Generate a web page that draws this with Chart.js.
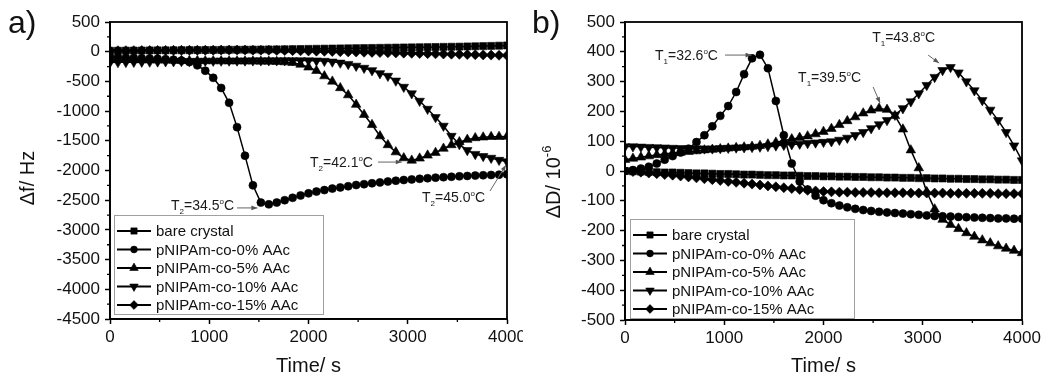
<!DOCTYPE html>
<html>
<head>
<meta charset="utf-8">
<title>QCM-D: frequency and dissipation shift</title>
<script src="https://cdn.jsdelivr.net/npm/chart.js@4.4.1/dist/chart.umd.min.js"></script>
<style>
  body { margin: 0; background: #fff; }
  #wrap { position: relative; width: 1053px; height: 381px; overflow: hidden; }
  #chartF { position: absolute; left: 0; top: 0; }
  #chartD { position: absolute; left: 523px; top: 0; }
</style>
</head>
<body>
<div id="wrap">
  <canvas id="chartF" width="523" height="381"></canvas>
  <canvas id="chartD" width="530" height="381"></canvas>
</div>
<script>
const FONT = "'Liberation Sans', Arial, sans-serif";

// time axis (s), one sample every 80 s
const times = [0, 80, 160, 240, 320, 400, 480, 560, 640, 720,
  800, 880, 960, 1040, 1120, 1200, 1280, 1360, 1440, 1520,
  1600, 1680, 1760, 1840, 1920, 2000, 2080, 2160, 2240, 2320,
  2400, 2480, 2560, 2640, 2720, 2800, 2880, 2960, 3040, 3120,
  3200, 3280, 3360, 3440, 3520, 3600, 3680, 3760, 3840, 3920, 4000];

const seriesNames = ['bare crystal', 'pNIPAm-co-0% AAc', 'pNIPAm-co-5% AAc',
  'pNIPAm-co-10% AAc', 'pNIPAm-co-15% AAc'];

// frequency shift, Hz
const fBare = [15, 16, 18, 19, 20, 21, 22, 23, 24, 25,
  26, 27, 28, 29, 30, 32, 33, 34, 35, 36,
  38, 39, 41, 43, 45, 47, 49, 51, 53, 55,
  57, 59, 61, 63, 65, 67, 69, 71, 73, 75,
  77, 79, 81, 83, 85, 88, 91, 94, 97, 101, 105];
const f0 = [-90, -95, -100, -105, -110, -115, -120, -125, -135, -150,
  -175, -230, -320, -440, -610, -860, -1270, -1750, -2250, -2540,
  -2570, -2540, -2500, -2460, -2420, -2385, -2355, -2330, -2305, -2285,
  -2265, -2245, -2230, -2215, -2200, -2185, -2172, -2160, -2150, -2140,
  -2130, -2120, -2112, -2105, -2098, -2092, -2086, -2080, -2075, -2070, -2065];
const f5 = [-130, -132, -135, -137, -140, -142, -144, -146, -148, -150,
  -152, -154, -156, -157, -158, -159, -160, -161, -162, -163,
  -164, -168, -175, -185, -215, -262, -320, -410, -500, -610,
  -730, -890, -1060, -1230, -1420, -1570, -1690, -1790, -1830, -1795,
  -1745, -1700, -1630, -1570, -1520, -1480, -1452, -1440, -1432, -1430, -1428];
const f10 = [-180, -178, -176, -174, -172, -170, -168, -166, -164, -162,
  -160, -158, -156, -155, -154, -153, -152, -151, -150, -150,
  -149, -149, -148, -148, -148, -150, -152, -158, -170, -188,
  -210, -240, -275, -315, -365, -410, -490, -595, -705, -830,
  -965, -1105, -1250, -1420, -1560, -1660, -1725, -1760, -1790, -1825, -1850];
const f15 = [15, 16, 17, 18, 19, 20, 21, 22, 23, 24,
  25, 25, 26, 26, 27, 27, 27, 27, 26, 25,
  24, 22, 20, 18, 15, 12, 9, 6, 3, 0,
  -3, -6, -9, -12, -15, -18, -21, -24, -27, -30,
  -33, -36, -39, -42, -45, -48, -51, -54, -57, -60, -63];

// dissipation shift, 1e-6
const dBare = [0, -1, -2, -3, -4, -5, -5, -6, -7, -8,
  -8, -9, -10, -10, -11, -12, -12, -13, -14, -14,
  -15, -15, -16, -17, -17, -18, -18, -19, -19, -20,
  -20, -21, -21, -22, -22, -23, -23, -24, -24, -25,
  -25, -26, -26, -27, -27, -28, -28, -29, -29, -30, -30];
const d0 = [0, 3, 8, 14, 25, 38, 50, 62, 75, 97,
  120, 150, 185, 218, 265, 325, 378, 390, 345, 235,
  120, 25, -35, -62, -83, -98, -108, -116, -122, -127,
  -131, -134, -137, -139, -141, -143, -145, -147, -149, -151,
  -152, -153, -154, -155, -156, -157, -158, -159, -159, -160, -160];
const d5 = [38, 42, 46, 50, 54, 57, 60, 62, 65, 67,
  70, 72, 74, 76, 78, 80, 82, 85, 90, 96,
  102, 107, 112, 117, 124, 132, 142, 155, 168, 181,
  194, 204, 210, 206, 185, 140, 70, 10, -70, -128,
  -163, -180, -194, -208, -220, -232, -242, -252, -260, -267, -275];
const d10 = [82, 82, 81, 80, 79, 78, 77, 76, 75, 75,
  75, 75, 76, 77, 78, 79, 80, 81, 83, 85,
  87, 89, 91, 93, 95, 97, 99, 104, 111, 120,
  130, 143, 156, 170, 188, 210, 233, 260, 288, 315,
  338, 348, 330, 300, 270, 237, 205, 170, 130, 85, 35];
const d15 = [0, -2, -4, -7, -9, -12, -14, -17, -20, -23,
  -26, -29, -32, -35, -38, -41, -44, -47, -50, -53,
  -56, -59, -62, -65, -67, -69, -70, -71, -71, -72,
  -72, -72, -73, -73, -73, -73, -74, -74, -74, -74,
  -74, -75, -75, -75, -75, -75, -75, -76, -76, -76, -76];

// symbol per sample
const markers = [
  { pointStyle: 'rect', rotation: 0, radius: 5 },
  { pointStyle: 'circle', rotation: 0, radius: 4 },
  { pointStyle: 'triangle', rotation: 0, radius: 5.5 },
  { pointStyle: 'triangle', rotation: 180, radius: 5.5 },
  { pointStyle: 'rectRot', rotation: 0, radius: 5 }
];

function makeDatasets(arrays) {
  return arrays.map((arr, i) => ({
    label: seriesNames[i],
    data: times.map((t, k) => ({ x: t, y: arr[k] })),
    borderColor: '#000',
    backgroundColor: '#000',
    borderWidth: 1.5,
    pointStyle: markers[i].pointStyle,
    rotation: markers[i].rotation,
    pointRadius: markers[i].radius,
    pointBorderWidth: 0.6,
    pointBackgroundColor: '#000',
    pointBorderColor: '#000',
    tension: 0
  }));
}

function axisX(height) {
  return {
    type: 'linear', min: 0, max: 4000,
    ticks: {
      stepSize: 500, autoSkip: false, maxRotation: 0, padding: 3, color: '#111',
      font: { family: FONT, size: 17 },
      callback: v => (v % 1000 === 0 ? String(v) : '')
    },
    grid: {
      drawOnChartArea: false, drawTicks: true, tickLength: 5, tickWidth: 1.5,
      tickColor: c => (c.tick && c.tick.value % 1000 === 0 ? '#000' : 'rgba(0,0,0,0)')
    },
    border: { display: true, color: '#000', width: 1.8 },
    title: {
      display: true, text: 'Time/ s', color: '#111',
      font: { family: FONT, size: 20 }, padding: { top: 0, bottom: 3 }
    },
    afterFit: s => { s.height = height; s.paddingLeft = 0; s.paddingRight = 0; }
  };
}

function axisY(min, max, minorStep, majorStep, width) {
  return {
    type: 'linear', min: min, max: max,
    ticks: {
      stepSize: minorStep, autoSkip: false, padding: 5, color: '#111',
      font: { family: FONT, size: 17 },
      callback: v => (v % majorStep === 0 ? String(v) : '')
    },
    grid: {
      drawOnChartArea: false, drawTicks: true, tickLength: 5, tickWidth: 1.5,
      tickColor: c => (c.tick && c.tick.value % majorStep === 0 ? '#000' : 'rgba(0,0,0,0)')
    },
    border: { display: true, color: '#000', width: 1.8 },
    afterFit: s => { s.width = width; s.paddingTop = 0; s.paddingBottom = 0; }
  };
}

// text with sub/superscripts, drawn left to right from x
function richWidth(ctx, parts, big, small) {
  let w = 0;
  parts.forEach(p => {
    ctx.font = (p.sub || p.sup ? small : big) + 'px ' + FONT;
    w += ctx.measureText(p.s).width;
  });
  return w;
}
function drawRich(ctx, parts, x, y, big, small, supShift, subShift) {
  parts.forEach(p => {
    ctx.font = (p.sub || p.sup ? small : big) + 'px ' + FONT;
    const dy = p.sup ? -supShift : (p.sub ? subShift : 0);
    ctx.fillText(p.s, x, y + dy);
    x += ctx.measureText(p.s).width;
  });
}

function tempLabel(idx, value) {
  return [{ s: 'T' }, { s: idx, sub: true }, { s: '=' + value }, { s: 'o', sup: true }, { s: 'C' }];
}

// frame, minor ticks, panel letter, y title, arrows and legend
const panelDecor = {
  id: 'panelDecor',
  afterDraw(chart, args, opts) {
    const ctx = chart.ctx;
    const a = chart.chartArea;
    const sx = chart.scales.x, sy = chart.scales.y;
    ctx.save();

    ctx.strokeStyle = '#000';
    ctx.lineWidth = 1.8;
    ctx.strokeRect(a.left, a.top, a.right - a.left, a.bottom - a.top);

    ctx.lineWidth = 1.3;
    ctx.beginPath();
    sx.ticks.forEach(t => {
      if (t.label !== '') return;
      const px = sx.getPixelForValue(t.value);
      ctx.moveTo(px, a.bottom); ctx.lineTo(px, a.bottom + 3);
    });
    sy.ticks.forEach(t => {
      if (t.label !== '') return;
      const py = sy.getPixelForValue(t.value);
      ctx.moveTo(a.left, py); ctx.lineTo(a.left - 3, py);
    });
    ctx.stroke();

    ctx.fillStyle = '#111';
    ctx.textBaseline = 'alphabetic';
    ctx.textAlign = 'left';
    ctx.font = '32px ' + FONT;
    ctx.fillText(opts.letter, opts.letterX, 33);

    // y axis title
    ctx.save();
    ctx.translate(opts.yTitleX, opts.yTitleY);
    ctx.rotate(-Math.PI / 2);
    const tw = richWidth(ctx, opts.yTitle, 20, 13);
    drawRich(ctx, opts.yTitle, -tw / 2, 7, 20, 13, 9, 0);
    ctx.restore();

    // temperature notes with arrows
    opts.notes.forEach(n => {
      ctx.fillStyle = '#1a1a1a';
      const tx = sx.getPixelForValue(n.t), ty = sy.getPixelForValue(n.v);
      drawRich(ctx, tempLabel(n.idx, n.value), tx, ty + 5, 14, 8, 6, 4);
      const x1 = sx.getPixelForValue(n.from[0]), y1 = sy.getPixelForValue(n.from[1]);
      const x2 = sx.getPixelForValue(n.to[0]), y2 = sy.getPixelForValue(n.to[1]);
      ctx.strokeStyle = '#666';
      ctx.fillStyle = '#555';
      ctx.lineWidth = 1;
      ctx.beginPath(); ctx.moveTo(x1, y1); ctx.lineTo(x2, y2); ctx.stroke();
      const ang = Math.atan2(y2 - y1, x2 - x1);
      ctx.beginPath();
      ctx.moveTo(x2, y2);
      ctx.lineTo(x2 - 6 * Math.cos(ang) + 2.3 * Math.sin(ang), y2 - 6 * Math.sin(ang) - 2.3 * Math.cos(ang));
      ctx.lineTo(x2 - 6 * Math.cos(ang) - 2.3 * Math.sin(ang), y2 - 6 * Math.sin(ang) + 2.3 * Math.cos(ang));
      ctx.closePath(); ctx.fill();
    });

    // legend box
    const lg = opts.legend;
    const bx = a.left + lg.dx, by = lg.top;
    const rowH = 18.5;
    const bh = 16 + rowH * (seriesNames.length - 1) + 9;
    ctx.fillStyle = '#fff';
    ctx.fillRect(bx, by, lg.width, bh);
    ctx.strokeStyle = '#a0a0a0';
    ctx.lineWidth = 1;
    ctx.strokeRect(bx + 0.5, by + 0.5, lg.width, bh);
    seriesNames.forEach((name, i) => {
      const y = by + 16 + i * rowH;
      ctx.strokeStyle = '#000';
      ctx.lineWidth = 2;
      ctx.beginPath(); ctx.moveTo(bx + 3, y); ctx.lineTo(bx + 37, y); ctx.stroke();
      ctx.fillStyle = '#000';
      ctx.lineWidth = 0.6;
      Chart.helpers.drawPoint(ctx, {
        pointStyle: markers[i].pointStyle, rotation: markers[i].rotation,
        radius: markers[i].radius - 0.6, borderWidth: 0.6
      }, bx + 20, y);
      ctx.fillStyle = '#111';
      ctx.font = '15px ' + FONT;
      ctx.textBaseline = 'middle';
      ctx.fillText(name, bx + 42, y + 1);
    });
    ctx.restore();
  }
};

function makeChart(id, arrays, yAxis, xHeight, padRight, decor) {
  return new Chart(document.getElementById(id), {
    type: 'line',
    data: { datasets: makeDatasets(arrays) },
    options: {
      responsive: false,
      animation: false,
      layout: { padding: { left: 0, top: 22, right: padRight, bottom: 0 } },
      scales: { x: axisX(xHeight), y: yAxis },
      plugins: { legend: { display: false }, tooltip: { enabled: false }, panelDecor: decor }
    },
    plugins: [panelDecor]
  });
}

const chartF = makeChart('chartF', [fBare, f0, f5, f10, f15],
  axisY(-4500, 500, 250, 500, 110), 62, 16, {
    letter: 'a)', letterX: 8,
    yTitle: [{ s: '\u0394f/ Hz' }], yTitleX: 27, yTitleY: 178,
    legend: { dx: 4, top: 215, width: 209 },
    notes: [
      { idx: '2', value: '34.5', t: 615, v: -2584, from: [1280, -2630], to: [1485, -2630] },
      { idx: '2', value: '42.1', t: 2015, v: -1858, from: [2700, -1858], to: [2940, -1858] },
      { idx: '2', value: '45.0', t: 3144, v: -2448, from: [3829, -2345], to: [3990, -1907] }
    ]
  });

const chartD = makeChart('chartD', [dBare, d0, d5, d10, d15],
  axisY(-500, 500, 50, 100, 102), 61, 31, {
    letter: 'b)', letterX: 9,
    yTitle: [{ s: '\u0394D/ 10' }, { s: '-6', sup: true }], yTitleX: 30, yTitleY: 182,
    legend: { dx: 5, top: 219, width: 224 },
    notes: [
      { idx: '1', value: '32.6', t: 302, v: 389, from: [1008, 389], to: [1275, 389] },
      { idx: '1', value: '39.5', t: 1744, v: 315, from: [2500, 282], to: [2570, 228] },
      { idx: '1', value: '43.8', t: 2490, v: 450, from: [3054, 389], to: [3165, 362] }
    ]
  });
</script>
</body>
</html>
